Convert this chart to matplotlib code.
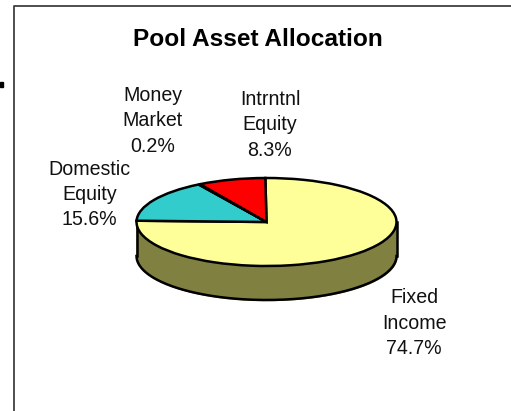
import matplotlib
matplotlib.use("Agg")
import matplotlib.pyplot as plt
import numpy as np

title = "Pool Asset Allocation"
categories = ["Fixed\nIncome", "Domestic\nEquity", "Money\nMarket", "Intrntnl\nEquity"]
shares = [74.7, 15.6, 0.2, 8.3]
colors = ["#ffff99", "#33cccc", "#000000", "#ff0000"]

W, H = 511, 411
cx, cy = 266.5, 222
rx, ry = 130, 44
depth = 34

plt.rcParams["font.family"] = ["Liberation Sans", "DejaVu Sans"]

fig = plt.figure(figsize=(W / 100, H / 100), dpi=100)
ax = fig.add_axes([0, 0, 1, 1])

# side of the cylinder first, then the flat pie on top
t = np.linspace(np.pi, 2 * np.pi, 200)
ax.fill_between(np.cos(t), np.sin(t), np.sin(t) - depth / ry, color="#808040", zorder=1)
ax.plot(np.cos(t), np.sin(t) - depth / ry, color="black", lw=1.8, zorder=2)
ax.plot([-1, -1], [0, -depth / ry], color="black", lw=1.8, zorder=2)
ax.plot([1, 1], [0, -depth / ry], color="black", lw=1.8, zorder=2)

ax.pie(shares, colors=colors, startangle=90.5, counterclock=False,
       wedgeprops={"edgecolor": "black", "linewidth": 1.8, "zorder": 3})
ax.set_aspect("auto")
ax.set_xlim(-cx / rx, (W - cx) / rx)
ax.set_ylim((cy - H) / ry, cy / ry)
ax.axis("off")

fig.add_artist(plt.Line2D([14 / W, 14 / W, 1],
                          [0, 1 - 6.5 / H, 1 - 6.5 / H], color="#404040", lw=1.3))
fig.add_artist(plt.Rectangle((0, 1 - 87 / H), 3 / W, 5 / H, color="black"))

fig.text(257.5 / W, 1 - 39 / H, title, ha="center", va="center", fontsize=17.6, fontweight="bold")

label_pos = [(414, 323), (89.5, 194.5), (152.5, 121), (270, 125)]
pcts = [f"{s:.1f}%" for s in shares]
for name, pct, (x, y) in zip(categories, pcts, label_pos):
    fig.text(x / W, 1 - y / H, f"{name}\n{pct}", ha="center", va="center",
             fontsize=14.1, linespacing=1.42, color="#111111")

fig.savefig("out.png", dpi=100)
